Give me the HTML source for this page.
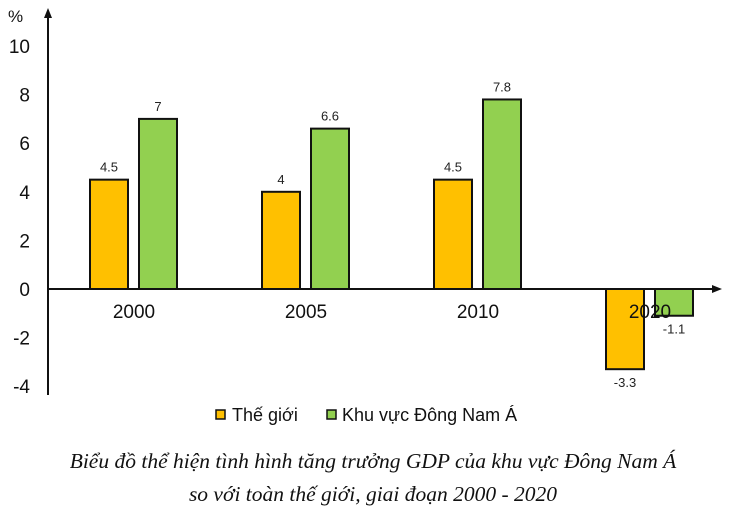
<!DOCTYPE html>
<html><head><meta charset="utf-8"><style>
body{margin:0;background:#fff;}
svg{display:block;font-family:"Liberation Sans",sans-serif;}
</style></head><body>
<svg width="741" height="519">
<g id="plot"></g>
<text x="373" y="468" text-anchor="middle" font-family="Liberation Serif, serif" font-style="italic" font-size="21.5" fill="#111">Biểu đồ thể hiện tình hình tăng trưởng GDP của khu vực Đông Nam Á</text>
<text x="373" y="501" text-anchor="middle" font-family="Liberation Serif, serif" font-style="italic" font-size="21.5" fill="#111">so với toàn thế giới, giai đoạn 2000 - 2020</text>
</svg>
<script>
const categories=["2000","2005","2010","2020"];
const world=[4.5,4,4.5,-3.3];
const sea=[7,6.6,7.8,-1.1];
const yTicks=[10,8,6,4,2,0,-2,-4];
const NS="http://www.w3.org/2000/svg";
const g=document.getElementById('plot');
const y=v=>289-v*24.3;
const cx=i=>134+i*172;
function el(t,a,txt){const e=document.createElementNS(NS,t);for(const k in a)e.setAttribute(k,a[k]);if(txt!==undefined)e.textContent=txt;g.appendChild(e);return e;}
yTicks.forEach(t=>{const e=el('text',{x:30,y:y(t)+7,'text-anchor':'end','font-size':19,fill:'#111'},String(t));

});
let u=el('text',{x:8,y:22,'font-size':17,fill:'#111'},'%');


categories.forEach((c,i)=>{
 const pairs=[[world[i],'#FFC000',cx(i)-44,'bar-world-'+c],[sea[i],'#92D050',cx(i)+5,'bar-sea-'+c]];
 pairs.forEach(([v,col,x,n])=>{
  const top=Math.min(y(v),y(0)),h=Math.abs(y(v)-y(0));
  const r=el('rect',{x:x,y:top,width:38,height:h,fill:col,stroke:'#111','stroke-width':2});
  
  
  const ly=v>=0?y(v)-8:y(v)+18;
  const t=el('text',{x:x+19,y:ly,'text-anchor':'middle','font-size':13,fill:'#222'},String(v));
  
  
 });
 const t=el('text',{x:cx(i),y:318,'text-anchor':'middle','font-size':19,fill:'#111'},c);
 
 
});
let a=el('line',{x1:48,y1:395,x2:48,y2:16,stroke:'#111','stroke-width':2});


let ah=el('polygon',{points:'48,8 44,18 52,18',fill:'#111'});


let xa=el('line',{x1:48,y1:y(0),x2:714,y2:y(0),stroke:'#111','stroke-width':2});


let xh=el('polygon',{points:`722,${y(0)} 712,${y(0)-4} 712,${y(0)+4}`,fill:'#111'});


[['#FFC000',216,232,'Thế giới','legend-world'],['#92D050',327,342,'Khu vực Đông Nam Á','legend-sea']].forEach(([c,sx,tx,lab,n])=>{
 const s=el('rect',{x:sx,y:410,width:9,height:9,fill:c,stroke:'#111','stroke-width':1.5});
 
 
 const t=el('text',{x:tx,y:421,'font-size':18,fill:'#111'},lab);
 
 
});
</script>
</body></html>
